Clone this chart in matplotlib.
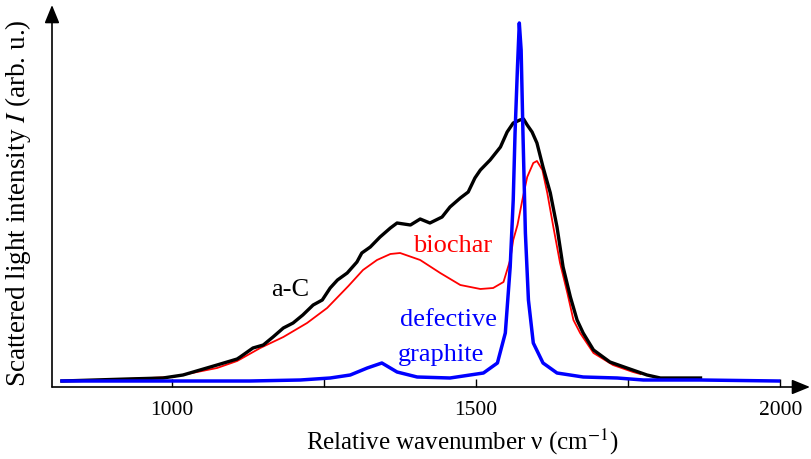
import matplotlib
matplotlib.use('Agg')
import matplotlib.pyplot as plt

plt.rcParams['font.family'] = ['Liberation Serif', 'DejaVu Serif']
plt.rcParams['mathtext.fontset'] = 'stix'

# a-C spectrum
ac_x = [819, 926, 985, 1018, 1074, 1107, 1112, 1133, 1150, 1166, 1183, 1199, 1215, 1232,
        1247, 1260, 1272, 1288, 1304, 1312, 1326, 1342, 1359, 1370, 1392, 1408, 1424, 1444,
        1457, 1474, 1487, 1498, 1507, 1523, 1540, 1551, 1561, 1572, 1578, 1584, 1592,
        1600, 1610, 1622, 1633, 1643, 1655, 1666, 1676, 1693, 1720, 1748, 1781, 1803, 1869]
ac_y = [6, 8, 9, 12, 22, 28, 30, 39, 42, 50, 59, 64, 72, 82,
        87, 99, 107, 114, 125, 134, 140, 150, 159, 164, 162, 168, 164, 170,
        180, 189, 195, 209, 217, 227, 240, 255, 264, 267, 268, 262, 255,
        244, 220, 194, 160, 120, 90, 67, 54, 37, 25, 19, 12, 9, 9]

# biochar spectrum
bc_x = [850, 1000, 1074, 1107, 1145, 1183, 1222, 1255, 1290, 1314, 1337, 1359, 1375, 1408,
        1441, 1474, 1507, 1528, 1545, 1556, 1561, 1568, 1576, 1584, 1594, 1600, 1609, 1617,
        1627, 1638, 1650, 1660, 1671, 1693, 1725, 1758, 1770]
bc_y = [6, 10, 19, 26, 39, 50, 64, 79, 101, 117, 127, 133, 134, 127,
        114, 102, 98, 99, 105, 127, 147, 162, 187, 210, 224, 226, 217, 194,
        160, 124, 94, 67, 54, 34, 22, 15, 13]

# defective graphite spectrum
dg_x = [819, 1000, 1128, 1211, 1260, 1293, 1321, 1345, 1370, 1403, 1457, 1512, 1535, 1548,
        1556, 1561, 1564, 1568, 1571, 1574, 1577, 1581, 1586, 1594, 1610, 1633, 1676, 1732,
        1775, 1869, 1997]
dg_y = [6, 6, 6, 7, 9, 12, 19, 24, 15, 10, 9, 14, 24, 54,
        120, 187, 254, 320, 364, 337, 254, 154, 87, 44, 24, 14, 10, 9,
        7, 7, 6]

fig = plt.figure(figsize=(8.11, 4.59), dpi=100)
ax = fig.add_axes([52 / 811, 72 / 459, 758 / 811, 382 / 459])
ax.set_xlim(802.6, 2049)
ax.set_ylim(0, 382)

ax.plot(bc_x, bc_y, color='red', lw=1.3, zorder=3)
ax.plot(ac_x, ac_y, color='black', lw=2.4, zorder=4)
ax.plot(dg_x, dg_y, color='blue', lw=2.5, zorder=5)

for s in ax.spines.values():
    s.set_visible(False)

# axes drawn as arrows
arr = dict(arrowstyle='-|>,head_length=1.1,head_width=0.45', color='black', lw=1.2,
           shrinkA=0, shrinkB=0)
ax.annotate('', xy=(1, 0), xytext=(0, 0), xycoords='axes fraction', arrowprops=arr)
ax.annotate('', xy=(0, 1), xytext=(0, 0), xycoords='axes fraction', arrowprops=arr)

ax.set_xticks([1000, 1250, 1500, 1750, 2000])
ax.set_xticklabels(['1000', '', '1500', '', '2000'])
ax.tick_params(axis='x', direction='in', length=6, width=1, labelsize=15.5, pad=10)
ax.set_yticks([])

ax.set_xlabel('Relative wavenumber ν (cm$^{-1}$)', fontsize=18)
ax.xaxis.set_label_coords(0.541, -0.105)
ax.set_ylabel('Scattered light intensity $I$ (arb. u.)', fontsize=19.5)
ax.yaxis.set_label_coords(-0.025, 0.482)

ax.text(1194, 97, 'a-C', color='black', fontsize=19, ha='center', va='center')
ax.text(1461, 141, 'biochar', color='red', fontsize=19, ha='center', va='center')
ax.text(1454, 67, 'defective', color='blue', fontsize=19, ha='center', va='center')
ax.text(1442, 32, 'graphite', color='blue', fontsize=19, ha='center', va='center')

fig.savefig('out.png', dpi=100)
